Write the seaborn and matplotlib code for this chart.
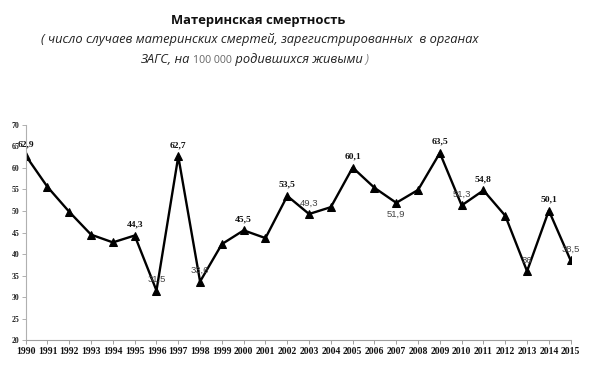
import matplotlib
matplotlib.use("Agg")
import matplotlib.pyplot as plt
import seaborn as sns
import pandas as pd

years = list(range(1990, 2016))
values = [62.9, 55.6, 49.8, 44.5, 42.7, 44.3, 31.5, 62.7, 33.6, 42.3,
          45.5, 43.7, 53.5, 49.3, 50.9, 60.1, 55.4, 51.9, 54.9, 63.5,
          51.3, 54.8, 48.9, 36.0, 50.1, 38.5]
bold_label_years = [1990, 1995, 1997, 2000, 2002, 2005, 2009, 2011, 2014]
plain_label_years = [1996, 1998, 2003, 2007, 2010, 2013, 2015]
yticks = [20, 25, 30, 35, 40, 45, 50, 55, 60, 65, 70]

title = "Материнская смертность"
sub1 = "( число случаев материнских смертей, зарегистрированных  в органах"
sub2a = "ЗАГС, на "
sub2b = "100 000"
sub2c = " родившихся живыми"
sub2d = " )"

sns.set_theme(style="white")
df = pd.DataFrame({"year": years, "value": values})

fig = plt.figure(figsize=(6.0, 3.72), dpi=100)
ax = fig.add_axes([0.0428, 0.086, 0.9083, 0.578])

sns.lineplot(data=df, x="year", y="value", ax=ax, color="black", lw=1.7,
             marker="^", markersize=6, markeredgecolor="black",
             markerfacecolor="black")

ax.set_xlim(1990, 2015)
ax.set_ylim(20, 70)
ax.set_xticks(years)
ax.set_yticks(yticks)
ax.set_xticklabels([str(y) for y in years], fontfamily="Liberation Serif",
                   fontweight="bold", fontsize=6.9, color="#111111")
ax.set_yticklabels([str(y) for y in yticks], fontfamily="Liberation Serif",
                   fontweight="bold", fontsize=5.6, color="#222222")
ax.set_xlabel("")
ax.set_ylabel("")
for s in ["top", "right"]:
    ax.spines[s].set_visible(False)
ax.spines["left"].set_color("#b0b0b0")
ax.spines["bottom"].set_color("#a0a0a0")
ax.spines["left"].set_linewidth(0.8)
ax.spines["bottom"].set_linewidth(0.8)
ax.tick_params(axis="x", length=3, width=0.7, color="#a0a0a0", pad=2, direction="out", bottom=True)
ax.tick_params(axis="y", length=3, width=0.7, color="#b0b0b0", pad=1.5, direction="out", left=True)
ax.grid(False)


def fmt(v):
    return f"{v:g}".replace(".", ",")


for y, v in zip(years, values):
    if y in bold_label_years:
        ax.annotate(fmt(v), (y, v), xytext=(0, 8), textcoords="offset points",
                    ha="center", va="center", fontfamily="Liberation Serif",
                    fontweight="bold", fontsize=6.8, color="#111111")
    elif y in plain_label_years:
        off = -8 if y == 2007 else 8
        ax.annotate(fmt(v), (y, v), xytext=(0, off), textcoords="offset points",
                    ha="center", va="center", fontfamily="Liberation Sans",
                    fontsize=6.8, color="#444444")

fig.text(258 / 600, 1 - 20.5 / 372, title, ha="center", va="center",
         fontfamily="Open Sans", fontweight="bold", fontsize=9.4, color="#111111")
fig.text(260 / 600, 1 - 39 / 372, sub1, ha="center", va="center",
         fontfamily="Open Sans", style="italic", fontsize=9.3, color="#222222")

t1 = fig.text(140 / 600, 1 - 63 / 372, sub2a, ha="left", va="baseline",
              fontfamily="Open Sans", style="italic", fontsize=9.3, color="#222222")
t2 = fig.text(0, 0, sub2b, ha="left", va="baseline", fontfamily="Open Sans",
              fontsize=7.6, color="#666666")
t3 = fig.text(0, 0, sub2c, ha="left", va="baseline", fontfamily="Open Sans",
              style="italic", fontsize=9.3, color="#222222")
t4 = fig.text(0, 0, sub2d, ha="left", va="baseline", fontfamily="Open Sans",
              style="italic", fontsize=9.3, color="#888888")

fig.canvas.draw()
r = fig.canvas.get_renderer()
prev = t1
for t in (t2, t3, t4):
    bb = prev.get_window_extent(r)
    x = bb.x1 / fig.bbox.width
    t.set_position((x, 1 - 63 / 372))
    fig.canvas.draw()
    prev = t

fig.savefig("out.png", dpi=100)
